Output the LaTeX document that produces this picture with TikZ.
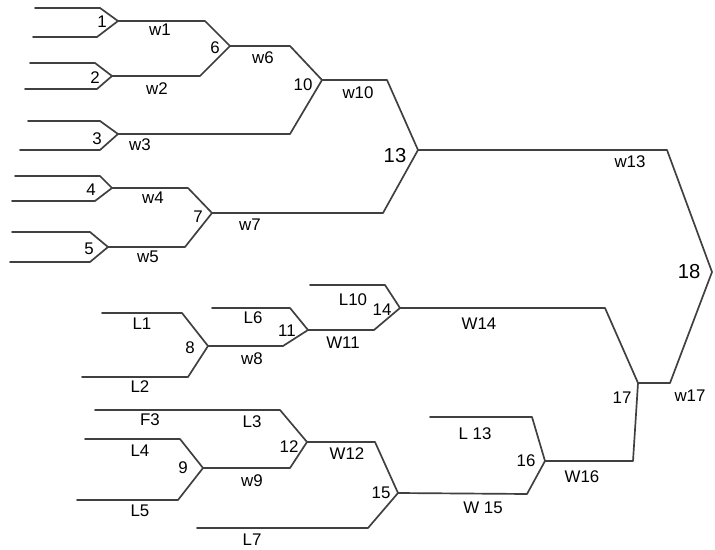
\documentclass[tikz,border=0pt]{standalone}
\usepackage{fontspec}
\setmainfont{Liberation Sans}
\usetikzlibrary{positioning}

\begin{document}
\begin{tikzpicture}[x=0.025cm, y=-0.025cm,
  bracket/.style={draw=black!75, line width=1.2pt, line join=round, line cap=round},
  num/.style={font=\large, inner sep=1pt},
  lbl/.style={font=\large, inner sep=1pt}]
  \useasboundingbox[fill=white] (0,0) rectangle (715,550);

  % game tips
  \coordinate (g1) at (118,21);
  \coordinate (g2) at (112,76);
  \coordinate (g3) at (118,134);
  \coordinate (g4) at (112,188);
  \coordinate (g5) at (108,247);
  \coordinate (g6) at (230,46);
  \coordinate (g7) at (212,213);
  \coordinate (g10) at (322,80);
  \coordinate (g13) at (418,150);
  \coordinate (g18) at (712,272);
  \coordinate (g8) at (208,346);
  \coordinate (g9) at (203,468);
  \coordinate (g11) at (308,330);
  \coordinate (g12) at (307,442);
  \coordinate (g14) at (400,308);
  \coordinate (g15) at (398,493);
  \coordinate (g16) at (545,461);
  \coordinate (g17) at (638,383);

  % free ends of the entrants
  \coordinate (e1a) at (35,8);   \coordinate (e1b) at (33,37);
  \coordinate (e2a) at (30,63);  \coordinate (e2b) at (25,89);
  \coordinate (e3a) at (28,121); \coordinate (e3b) at (20,150);
  \coordinate (e4a) at (15,176); \coordinate (e4b) at (12,201);
  \coordinate (e5a) at (12,232); \coordinate (e5b) at (10,262);
  \coordinate (l1) at (102,313);  \coordinate (l2) at (82,377);
  \coordinate (l3) at (95,410);   \coordinate (l4) at (85,439);
  \coordinate (l5) at (77,500);   \coordinate (l6) at (212,308);
  \coordinate (l7) at (197,528);  \coordinate (l10) at (310,285);
  \coordinate (l13) at (430,417);

  % winners side
  \draw[bracket] (e1a) -- ++(65,0) -- (g1) -- (97,37) -- (e1b);
  \draw[bracket] (e2a) -- ++(65,0) -- (g2) -- (97,89) -- (e2b);
  \draw[bracket] (e3a) -- ++(72,0) -- (g3) -- (100,150) -- (e3b);
  \draw[bracket] (e4a) -- ++(85,0) -- (g4) -- (95,201) -- (e4b);
  \draw[bracket] (e5a) -- ++(78,0) -- (g5) -- (90,262) -- (e5b);
  \draw[bracket] (g1) -- ++(87,0) -- (g6) -- (200,76) -- (g2);
  \draw[bracket] (g6) -- ++(60,0) -- (g10) -- (290,134) -- (g3);
  \draw[bracket] (g4) -- ++(76,0) -- (g7) -- (185,247) -- (g5);
  \draw[bracket] (g10) -- ++(65,0) -- (g13) -- (383,213) -- (g7);
  \draw[bracket] (g13) -- ++(249,0) -- (g18) -- (670,383) -- (g17);

  % losers side
  \draw[bracket] (l1) -- ++(80,0) -- (g8) -- (188,377) -- (l2);
  \draw[bracket] (l6) -- ++(78,0) -- (g11) -- (283,346) -- (g8);
  \draw[bracket] (l10) -- ++(75,0) -- (g14) -- (374,330) -- (g11);
  \draw[bracket] (l4) -- ++(95,0) -- (g9) -- (178,500) -- (l5);
  \draw[bracket] (l3) -- ++(185,0) -- (g12) -- (290,468) -- (g9);
  \draw[bracket] (g12) -- ++(68,0) -- (g15) -- (368,528) -- (l7);
  \draw[bracket] (l13) -- ++(102,0) -- (g16) -- (527,494) -- (g15);
  \draw[bracket] (g14) -- ++(205,0) -- (g17) -- (633,461) -- (g16);

  % game numbers
  \node[num] (n1) at (102,22) {1};
  \node[num] (n2) at (95,78) {2};
  \node[num] (n3) at (97,139) {3};
  \node[num] (n4) at (91,190) {4};
  \node[num] (n5) at (89,249) {5};
  \node[num] (n6) at (215,48) {6};
  \node[num] (n7) at (198,217) {7};
  \node[num] (n10) at (303,85) {10};
  \node[num, font=\Large] (n13) at (395,156) {13};
  \node[num, font=\Large] (n18) at (689,272) {18};
  \node[num] (n8) at (190,348) {8};
  \node[num] (n9) at (183,468) {9};
  \node[num] (n11) at (287,331) {11};
  \node[num] (n12) at (289,447) {12};
  \node[num] (n14) at (382,310) {14};
  \node[num] (n15) at (381,493) {15};
  \node[num] (n16) at (526,461) {16};
  \node[num] (n17) at (622,398) {17};

  % winner and loser labels
  \node[lbl] (w1) at (160,30) {w1};
  \node[lbl] (w2) at (157,89) {w2};
  \node[lbl] (w3) at (140,145) {w3};
  \node[lbl] (w4) at (153,198) {w4};
  \node[lbl] (w5) at (148,257) {w5};
  \node[lbl] (w6) at (263,58) {w6};
  \node[lbl] (w7) at (250,225) {w7};
  \node[lbl] (w10) at (358,93) {w10};
  \node[lbl] (w13) at (630,162) {w13};
  \node[lbl] (L1) at (142,324) {L1};
  \node[lbl] (L2) at (140,387) {L2};
  \node[lbl] (w8) at (252,359) {w8};
  \node[lbl] (L6) at (253,318) {L6};
  \node[lbl] (W11) at (343,343) {W11};
  \node[lbl] (L10) at (353,300) {L10};
  \node[lbl] (W14) at (479,324) {W14};
  \node[lbl] (F3) at (150,420) {F3};
  \node[lbl] (L3) at (252,422) {L3};
  \node[lbl] (L4) at (140,451) {L4};
  \node[lbl] (L5) at (140,511) {L5};
  \node[lbl] (w9) at (252,481) {w9};
  \node[lbl] (W12) at (347,454) {W12};
  \node[lbl] (L7) at (252,540) {L7};
  \node[lbl] (W15) at (483,508) {W 15};
  \node[lbl] (L13) at (475,434) {L 13};
  \node[lbl] (W16) at (582,477) {W16};
  \node[lbl] (w17) at (690,396) {w17};
\end{tikzpicture}
\end{document}
